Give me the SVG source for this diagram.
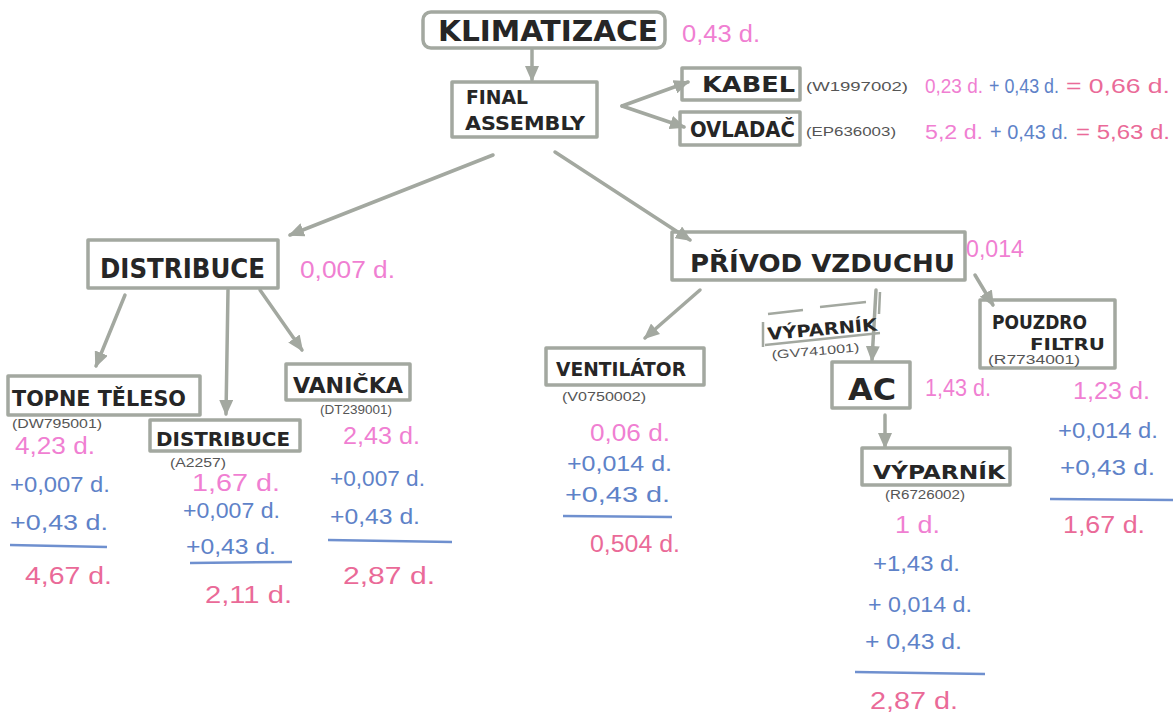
<svg xmlns="http://www.w3.org/2000/svg" width="1173" height="722" viewBox="0 0 1173 722">
<defs>
<marker id="ah" markerWidth="16" markerHeight="14" refX="14" refY="7" orient="auto" markerUnits="userSpaceOnUse">
<path d="M0,0 L16,7 L0,14 z" fill="#a3a8a0"/>
</marker>
<style>
.box{fill:none;stroke:#a3a8a0;stroke-width:3.5;stroke-linejoin:round}
.conn{fill:none;stroke:#a3a8a0;stroke-width:3.5;stroke-linecap:round}
.lbl{font-family:"DejaVu Sans Condensed","DejaVu Sans",sans-serif;font-weight:bold;fill:#262626}
.code{font-family:"Liberation Sans",sans-serif;font-size:12px;fill:#555}
.pk{font-family:"Liberation Sans",sans-serif;font-size:23px;fill:#f07fd2}
.bl{font-family:"Liberation Sans",sans-serif;font-size:22px;fill:#5e82c8}
.rd{font-family:"Liberation Sans",sans-serif;font-size:23px;fill:#ea6a98}
.sm{font-size:20px}
.sum{stroke:#6f90cf;stroke-width:2.5;fill:none}
</style>
</defs>
<rect width="1173" height="722" fill="#ffffff"/>

<g id="connectors">
<line class="conn" x1="532" y1="50" x2="532" y2="80" marker-end="url(#ah)"/>
<line class="conn" x1="622" y1="106" x2="688" y2="82" marker-end="url(#ah)"/>
<line class="conn" x1="622" y1="106" x2="684" y2="127" marker-end="url(#ah)"/>
<line class="conn" x1="493" y1="155" x2="290" y2="235" marker-end="url(#ah)"/>
<line class="conn" x1="555" y1="152" x2="690" y2="240" marker-end="url(#ah)"/>
<line class="conn" x1="125" y1="295" x2="96" y2="366" marker-end="url(#ah)"/>
<line class="conn" x1="228" y1="290" x2="226" y2="414" marker-end="url(#ah)"/>
<line class="conn" x1="260" y1="290" x2="302" y2="350" marker-end="url(#ah)"/>
<line class="conn" x1="700" y1="290" x2="645" y2="338" marker-end="url(#ah)"/>
<line class="conn" x1="876" y1="290" x2="872" y2="360" marker-end="url(#ah)"/>
<line class="conn" x1="975" y1="275" x2="993" y2="305" marker-end="url(#ah)"/>
<line class="conn" x1="885" y1="415" x2="885" y2="447" marker-end="url(#ah)"/>
</g>

<g id="klimatizace">
<rect class="box" x="423" y="12" width="242" height="36" rx="8"/>
<text class="lbl" x="438" y="41" font-size="28" textLength="220" lengthAdjust="spacingAndGlyphs">KLIMATIZACE</text>
<text class="pk" x="682" y="42" textLength="78" lengthAdjust="spacingAndGlyphs">0,43 d.</text>
</g>

<g id="final-assembly">
<rect class="box" x="452" y="82" width="145" height="55"/>
<text class="lbl" x="466" y="104" font-size="20" textLength="62" lengthAdjust="spacingAndGlyphs">FINAL</text>
<text class="lbl" x="465" y="130" font-size="20" textLength="120" lengthAdjust="spacingAndGlyphs">ASSEMBLY</text>
</g>

<g id="kabel">
<rect class="box" x="682" y="68" width="118" height="32"/>
<text class="lbl" x="702" y="92" font-size="22" textLength="93" lengthAdjust="spacingAndGlyphs">KABEL</text>
<text class="code" x="806" y="91" textLength="102" lengthAdjust="spacingAndGlyphs">(W1997002)</text>
<text class="pk sm" x="925" y="93" textLength="58" lengthAdjust="spacingAndGlyphs">0,23 d.</text>
<text class="bl sm" x="989" y="93" textLength="70" lengthAdjust="spacingAndGlyphs">+ 0,43 d.</text>
<text class="rd sm" x="1066" y="93" textLength="104" lengthAdjust="spacingAndGlyphs">= 0,66 d.</text>
</g>

<g id="ovladac">
<rect class="box" x="680" y="112" width="120" height="33"/>
<text class="lbl" x="690" y="137" font-size="21" textLength="105" lengthAdjust="spacingAndGlyphs">OVLADAČ</text>
<text class="code" x="806" y="136" textLength="90" lengthAdjust="spacingAndGlyphs">(EP636003)</text>
<text class="pk sm" x="925" y="139" textLength="58" lengthAdjust="spacingAndGlyphs">5,2 d.</text>
<text class="bl sm" x="990" y="139" textLength="78" lengthAdjust="spacingAndGlyphs">+ 0,43 d.</text>
<text class="rd sm" x="1076" y="139" textLength="94" lengthAdjust="spacingAndGlyphs">= 5,63 d.</text>
</g>

<g id="distribuce">
<rect class="box" x="88" y="240" width="190" height="48"/>
<text class="lbl" x="100" y="278" font-size="26" textLength="165" lengthAdjust="spacingAndGlyphs">DISTRIBUCE</text>
<text class="pk" x="300" y="278" textLength="95" lengthAdjust="spacingAndGlyphs">0,007 d.</text>
</g>

<g id="privod-vzduchu">
<rect class="box" x="672" y="232" width="293" height="48"/>
<text class="lbl" x="690" y="272" font-size="24" textLength="265" lengthAdjust="spacingAndGlyphs">PŘÍVOD  VZDUCHU</text>
<text class="pk" x="966" y="257" textLength="58" lengthAdjust="spacingAndGlyphs">0,014</text>
</g>

<g id="topne-teleso">
<rect class="box" x="8" y="376" width="192" height="39"/>
<text class="lbl" x="12" y="406" font-size="22" textLength="174" lengthAdjust="spacingAndGlyphs">TOPNE TĚLESO</text>
<text class="code" x="12" y="428" textLength="90" lengthAdjust="spacingAndGlyphs">(DW795001)</text>
<text class="pk" x="15" y="454" textLength="80" lengthAdjust="spacingAndGlyphs">4,23 d.</text>
<text class="bl" x="10" y="492" textLength="100" lengthAdjust="spacingAndGlyphs">+0,007 d.</text>
<text class="bl" x="10" y="530" textLength="98" lengthAdjust="spacingAndGlyphs">+0,43 d.</text>
<line class="sum" x1="10" y1="545" x2="107" y2="547"/>
<text class="rd" x="25" y="584" textLength="87" lengthAdjust="spacingAndGlyphs">4,67 d.</text>
</g>

<g id="distribuce-a2257">
<rect class="box" x="150" y="420" width="150" height="31"/>
<text class="lbl" x="156" y="446" font-size="20" textLength="134" lengthAdjust="spacingAndGlyphs">DISTRIBUCE</text>
<text class="code" x="170" y="467" textLength="56" lengthAdjust="spacingAndGlyphs">(A2257)</text>
<text class="pk" x="192" y="491" textLength="88" lengthAdjust="spacingAndGlyphs">1,67 d.</text>
<text class="bl" x="183" y="518" textLength="97" lengthAdjust="spacingAndGlyphs">+0,007 d.</text>
<text class="bl" x="186" y="554" textLength="90" lengthAdjust="spacingAndGlyphs">+0,43 d.</text>
<line class="sum" x1="190" y1="563" x2="292" y2="562"/>
<text class="rd" x="205" y="603" textLength="87" lengthAdjust="spacingAndGlyphs">2,11 d.</text>
</g>

<g id="vanicka">
<rect class="box" x="286" y="364" width="124" height="36"/>
<text class="lbl" x="293" y="393" font-size="21" textLength="110" lengthAdjust="spacingAndGlyphs">VANIČKA</text>
<text class="code" x="320" y="414" textLength="72" lengthAdjust="spacingAndGlyphs">(DT239001)</text>
<text class="pk" x="343" y="444" textLength="77" lengthAdjust="spacingAndGlyphs">2,43 d.</text>
<text class="bl" x="330" y="486" textLength="95" lengthAdjust="spacingAndGlyphs">+0,007 d.</text>
<text class="bl" x="330" y="524" textLength="90" lengthAdjust="spacingAndGlyphs">+0,43 d.</text>
<line class="sum" x1="328" y1="540" x2="452" y2="542"/>
<text class="rd" x="343" y="584" textLength="92" lengthAdjust="spacingAndGlyphs">2,87 d.</text>
</g>

<g id="ventilator">
<rect class="box" x="546" y="348" width="158" height="37"/>
<text class="lbl" x="556" y="376" font-size="19" textLength="130" lengthAdjust="spacingAndGlyphs">VENTILÁTOR</text>
<text class="code" x="562" y="401" textLength="84" lengthAdjust="spacingAndGlyphs">(V0750002)</text>
<text class="pk" x="590" y="441" textLength="80" lengthAdjust="spacingAndGlyphs">0,06 d.</text>
<text class="bl" x="567" y="471" textLength="105" lengthAdjust="spacingAndGlyphs">+0,014 d.</text>
<text class="bl" x="565" y="502" textLength="105" lengthAdjust="spacingAndGlyphs">+0,43 d.</text>
<line class="sum" x1="563" y1="516" x2="672" y2="517"/>
<text class="rd" x="590" y="552" textLength="90" lengthAdjust="spacingAndGlyphs">0,504 d.</text>
</g>

<g id="vyparnik-gv741001">
<path class="box" style="stroke-width:2.5" d="M763,347 L763,322 M768,314 L803,310 M820,307 L866,302 M880,292 L879,314 M765,345 L880,333"/>
<text class="lbl" x="768" y="340" font-size="17" textLength="110" lengthAdjust="spacingAndGlyphs" transform="rotate(-5 768 340)">VÝPARNÍK</text>
<text class="code" x="772" y="359" textLength="88" lengthAdjust="spacingAndGlyphs" transform="rotate(-5 772 359)">(GV741001)</text>
</g>

<g id="ac">
<rect class="box" x="832" y="362" width="78" height="46"/>
<text class="lbl" x="848" y="400" font-size="30" textLength="48" lengthAdjust="spacingAndGlyphs">AC</text>
<text class="pk" x="925" y="396" textLength="66" lengthAdjust="spacingAndGlyphs">1,43 d.</text>
</g>

<g id="vyparnik-r6726002">
<rect class="box" x="862" y="448" width="148" height="37"/>
<text class="lbl" x="873" y="479" font-size="19" textLength="132" lengthAdjust="spacingAndGlyphs">VÝPARNÍK</text>
<text class="code" x="885" y="499" textLength="80" lengthAdjust="spacingAndGlyphs">(R6726002)</text>
<text class="pk" x="895" y="533" textLength="45" lengthAdjust="spacingAndGlyphs">1 d.</text>
<text class="bl" x="873" y="571" textLength="87" lengthAdjust="spacingAndGlyphs">+1,43 d.</text>
<text class="bl" x="868" y="612" textLength="104" lengthAdjust="spacingAndGlyphs">+ 0,014 d.</text>
<text class="bl" x="865" y="649" textLength="97" lengthAdjust="spacingAndGlyphs">+ 0,43 d.</text>
<line class="sum" x1="855" y1="672" x2="985" y2="674"/>
<text class="rd" x="870" y="709" textLength="88" lengthAdjust="spacingAndGlyphs">2,87 d.</text>
</g>

<g id="pouzdro-filtru">
<rect class="box" x="980" y="300" width="135" height="68"/>
<text class="lbl" x="992" y="329" font-size="19" textLength="95" lengthAdjust="spacingAndGlyphs">POUZDRO</text>
<text class="lbl" x="1030" y="350" font-size="16" textLength="75" lengthAdjust="spacingAndGlyphs">FILTRU</text>
<text class="code" x="988" y="364" font-size="11" textLength="92" lengthAdjust="spacingAndGlyphs">(R7734001)</text>
<text class="pk" x="1073" y="399" textLength="77" lengthAdjust="spacingAndGlyphs">1,23 d.</text>
<text class="bl" x="1058" y="438" textLength="100" lengthAdjust="spacingAndGlyphs">+0,014 d.</text>
<text class="bl" x="1060" y="475" textLength="95" lengthAdjust="spacingAndGlyphs">+0,43 d.</text>
<line class="sum" x1="1050" y1="499" x2="1173" y2="500"/>
<text class="rd" x="1063" y="533" textLength="82" lengthAdjust="spacingAndGlyphs">1,67 d.</text>
</g>
</svg>
